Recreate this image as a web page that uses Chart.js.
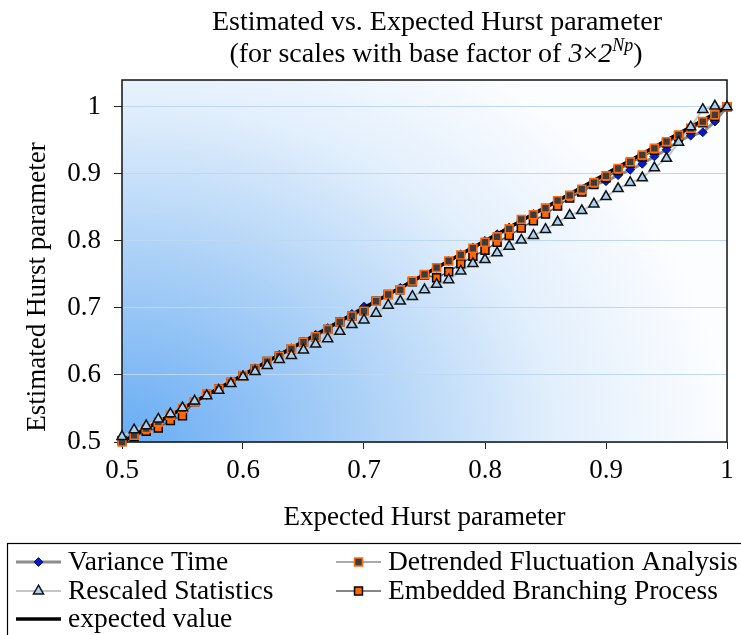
<!DOCTYPE html>
<html>
<head>
<meta charset="utf-8">
<style>
  html, body { margin: 0; padding: 0; background: #fff; }
  canvas { display: block; }
</style>
<script src="https://cdn.jsdelivr.net/npm/chart.js@4.4.1/dist/chart.umd.min.js"></script>
</head>
<body>
<canvas id="hurst" width="741" height="635"></canvas>
<script>
// Expected Hurst parameter (x) and the estimate of each method (y)
const expectedH = [
  0.50, 0.51, 0.52, 0.53, 0.54, 0.55, 0.56, 0.57, 0.58, 0.59,
  0.60, 0.61, 0.62, 0.63, 0.64, 0.65, 0.66, 0.67, 0.68, 0.69,
  0.70, 0.71, 0.72, 0.73, 0.74, 0.75, 0.76, 0.77, 0.78, 0.79,
  0.80, 0.81, 0.82, 0.83, 0.84, 0.85, 0.86, 0.87, 0.88, 0.89,
  0.90, 0.91, 0.92, 0.93, 0.94, 0.95, 0.96, 0.97, 0.98, 0.99,
  1.00
];
const varianceTime = [
  0.500, 0.510, 0.520, 0.530, 0.540, 0.550, 0.560, 0.570, 0.580, 0.590,
  0.600, 0.610, 0.620, 0.630, 0.640, 0.650, 0.660, 0.670, 0.680, 0.691,
  0.702, 0.710, 0.720, 0.730, 0.740, 0.750, 0.760, 0.770, 0.780, 0.790,
  0.800, 0.810, 0.820, 0.831, 0.840, 0.849, 0.859, 0.867, 0.875, 0.884,
  0.889, 0.898, 0.906, 0.915, 0.926, 0.936, 0.949, 0.957, 0.962, 0.978,
  1.000
];
const rescaledStats = [
  0.508, 0.518, 0.524, 0.534, 0.542, 0.551, 0.561, 0.569, 0.577, 0.587,
  0.597, 0.605, 0.614, 0.623, 0.629, 0.637, 0.646, 0.654, 0.665, 0.675,
  0.682, 0.692, 0.704, 0.710, 0.717, 0.727, 0.735, 0.742, 0.755, 0.766,
  0.772, 0.782, 0.792, 0.801, 0.808, 0.817, 0.828, 0.838, 0.845, 0.855,
  0.866, 0.878, 0.887, 0.894, 0.909, 0.923, 0.947, 0.970, 0.996, 1.001,
  1.000
];
const detrendedFA = [
  0.500, 0.510, 0.520, 0.530, 0.540, 0.550, 0.560, 0.571, 0.579, 0.589,
  0.599, 0.609, 0.620, 0.628, 0.639, 0.649, 0.657, 0.668, 0.679, 0.688,
  0.695, 0.710, 0.720, 0.727, 0.740, 0.750, 0.760, 0.770, 0.779, 0.789,
  0.798, 0.806, 0.818, 0.832, 0.839, 0.849, 0.860, 0.868, 0.877, 0.887,
  0.897, 0.908, 0.918, 0.928, 0.938, 0.948, 0.958, 0.968, 0.978, 0.988,
  1.000
];
const embeddedBP = [
  0.502, 0.508, 0.516, 0.521, 0.532, 0.539, 0.560, 0.571, 0.579, 0.589,
  0.599, 0.609, 0.620, 0.628, 0.639, 0.649, 0.657, 0.668, 0.679, 0.688,
  0.696, 0.710, 0.720, 0.727, 0.739, 0.749, 0.745, 0.754, 0.766, 0.777,
  0.786, 0.798, 0.808, 0.819, 0.830, 0.840, 0.852, 0.864, 0.873, 0.884,
  0.894, 0.905, 0.916, 0.925, 0.935, 0.946, 0.956, 0.966, 0.976, 0.986,
  1.000
];
const xTickValues = [0.5, 0.6, 0.7, 0.8, 0.9, 1];
const yTickValues = [0.5, 0.6, 0.7, 0.8, 0.9, 1];

const SERIF = '"Liberation Serif", "Times New Roman", serif';
const pts = ys => expectedH.map((x, i) => ({ x: x, y: ys[i] }));

// Marker styles shared by the plot and the legend
const styleRS  = { pointStyle: 'triangle', radius: 5.8, fill: '#a9cff1', stroke: '#111111', bw: 1.5 };
const styleDFA = { pointStyle: 'rect',     radius: 5.6, fill: '#3c3c3c', stroke: '#ff6a10', bw: 1.6 };
const styleEBP = { pointStyle: 'rect',     radius: 5.6, fill: '#ff6600', stroke: '#000000', bw: 1.5 };
const styleVT  = { pointStyle: 'rectRot',  radius: 4.4, fill: '#0b18c8', stroke: '#00106e', bw: 1 };

function markers(label, ys, s, order) {
  return {
    label: label, data: pts(ys), showLine: false, order: order, clip: false,
    pointStyle: s.pointStyle, pointRadius: s.radius, pointHoverRadius: s.radius,
    pointBackgroundColor: s.fill, pointBorderColor: s.stroke, pointBorderWidth: s.bw
  };
}
function line(label, ys, color, width, order) {
  return {
    label: label, data: pts(ys), order: order, clip: false,
    borderColor: color, borderWidth: width, pointRadius: 0, tension: 0, fill: false
  };
}

const lineRS  = line('Rescaled Statistics', rescaledStats, '#c4c4c4', 2, 5);
const lineDFA = line('Detrended Fluctuation Analysis', detrendedFA, '#8e8e8e', 1.5, 6);
const lineEBP = line('Embedded Branching Process', embeddedBP, '#5c5c5c', 1.5, 7);
const lineExp = line('expected value', expectedH, '#000000', 3.5, 4);
const dsVT = Object.assign(line('Variance Time', varianceTime, '#8c8c8c', 3, 8), {
  pointStyle: styleVT.pointStyle, pointRadius: styleVT.radius, pointHoverRadius: styleVT.radius,
  pointBackgroundColor: styleVT.fill, pointBorderColor: styleVT.stroke, pointBorderWidth: styleVT.bw
});

const datasets = [
  markers('Rescaled Statistics', rescaledStats, styleRS, 1),
  markers('Detrended Fluctuation Analysis', detrendedFA, styleDFA, 2),
  markers('Embedded Branching Process', embeddedBP, styleEBP, 3),
  lineExp, lineRS, lineDFA, lineEBP, dsVT
];

function drawMarker(ctx, s, x, y) {
  ctx.save();
  ctx.fillStyle = s.fill;
  ctx.strokeStyle = s.stroke;
  ctx.lineWidth = s.bw;
  Chart.helpers.drawPoint(ctx, { pointStyle: s.pointStyle, radius: s.radius, rotation: 0, borderWidth: s.bw }, x, y);
  ctx.restore();
}

// Background gradient, plot frame, titles and the boxed legend
const decor = {
  id: 'decor',
  beforeDraw(chart) {
    const { ctx, chartArea: a } = chart;
    ctx.save();
    ctx.fillStyle = '#ffffff';
    ctx.fillRect(0, 0, chart.width, chart.height);
    const w = a.right - a.left;
    const h = a.bottom - a.top;
    // elliptical glow from the lower-left corner
    const sy = (h * 1.3) / w;
    ctx.beginPath();
    ctx.rect(a.left, a.top, w, h);
    ctx.clip();
    ctx.translate(a.left, a.bottom);
    ctx.scale(1, sy);
    const g = ctx.createRadialGradient(0, 0, 0, 0, 0, w);
    g.addColorStop(0, '#68acf4');
    g.addColorStop(0.4, '#acd1f7');
    g.addColorStop(0.72, '#e2effc');
    g.addColorStop(1, '#fcfdff');
    ctx.fillStyle = g;
    ctx.fillRect(0, -w * 2, w * 2, w * 2);
    ctx.restore();
  },
  beforeDatasetsDraw(chart) {
    const { ctx, chartArea: a } = chart;
    ctx.save();
    ctx.strokeStyle = '#111111';
    ctx.lineWidth = 1.5;
    ctx.strokeRect(a.left, a.top, a.right - a.left, a.bottom - a.top);
    ctx.restore();
  },
  afterDraw(chart) {
    const { ctx } = chart;
    ctx.save();
    ctx.fillStyle = '#000';
    ctx.textBaseline = 'alphabetic';

    // Title, first line
    ctx.font = '28px ' + SERIF;
    ctx.textAlign = 'center';
    ctx.fillText('Estimated vs. Expected Hurst parameter', 437, 30);

    // Title, second line with italic factor and superscript exponent
    const parts = [
      { t: '(for scales with base factor of ', f: '28px ' + SERIF, dy: 0 },
      { t: '3', f: 'italic 28px ' + SERIF, dy: 0 },
      { t: '\u00d7', f: '28px ' + SERIF, dy: 0 },
      { t: '2', f: 'italic 28px ' + SERIF, dy: 0 },
      { t: 'Np', f: 'italic 18px ' + SERIF, dy: -11 },
      { t: ')', f: '28px ' + SERIF, dy: 0 }
    ];
    let total = 0;
    parts.forEach(p => { ctx.font = p.f; p.w = ctx.measureText(p.t).width; total += p.w; });
    let x = 436 - total / 2;
    ctx.textAlign = 'left';
    parts.forEach(p => { ctx.font = p.f; ctx.fillText(p.t, x, 62 + p.dy); x += p.w; });

    // Vertical axis title
    ctx.save();
    ctx.translate(38, 287);
    ctx.rotate(-Math.PI / 2);
    ctx.font = '27px ' + SERIF;
    ctx.textAlign = 'center';
    ctx.textBaseline = 'middle';
    ctx.fillText('Estimated Hurst parameter', 0, 0);
    ctx.restore();

    // Legend box
    ctx.strokeStyle = '#000';
    ctx.lineWidth = 1.2;
    ctx.strokeRect(7.5, 543.5, 745, 100);

    const items = [
      { ds: dsVT,    s: styleVT,  col: 0, row: 0 },
      { ds: lineDFA, s: styleDFA, col: 1, row: 0 },
      { ds: lineRS,  s: styleRS,  col: 0, row: 1 },
      { ds: lineEBP, s: styleEBP, col: 1, row: 1 },
      { ds: lineExp, s: null,     col: 0, row: 2 }
    ];
    const colX = [16, 336];
    const rowY = [562, 591, 619];
    ctx.font = '27.5px ' + SERIF;
    ctx.textAlign = 'left';
    ctx.textBaseline = 'middle';
    items.forEach(it => {
      const x0 = colX[it.col], y0 = rowY[it.row];
      ctx.strokeStyle = it.ds.borderColor;
      ctx.lineWidth = it.ds.borderWidth;
      ctx.beginPath();
      ctx.moveTo(x0, y0);
      ctx.lineTo(x0 + 45, y0);
      ctx.stroke();
      if (it.s) drawMarker(ctx, it.s, x0 + 22.5, y0);
      ctx.fillStyle = '#000';
      ctx.fillText(it.ds.label, x0 + 52, y0 + 1);
    });
    ctx.restore();
  }
};

new Chart(document.getElementById('hurst'), {
  type: 'line',
  data: { datasets: datasets },
  options: {
    responsive: false,
    animation: false,
    events: [],
    layout: { padding: { top: 80, right: 14, bottom: 93, left: 0 } },
    plugins: { legend: { display: false }, tooltip: { enabled: false }, title: { display: false } },
    scales: {
      x: {
        type: 'linear', min: 0.5, max: 1.0,
        afterBuildTicks: s => { s.ticks = xTickValues.map(v => ({ value: v })); },
        afterFit: s => { s.height = 100; },
        border: { display: false },
        grid: { drawOnChartArea: false, drawTicks: true, tickLength: 7, tickColor: '#222', tickWidth: 1 },
        ticks: {
          font: { family: SERIF, size: 27 }, color: '#000', padding: 6,
          maxRotation: 0, autoSkip: false, callback: v => String(v)
        },
        title: {
          display: true, text: 'Expected Hurst parameter', color: '#000',
          font: { family: SERIF, size: 27 }, padding: { top: 0, bottom: 8 }
        }
      },
      y: {
        type: 'linear', min: 0.5, max: 1.04,
        afterBuildTicks: s => { s.ticks = yTickValues.map(v => ({ value: v })); },
        afterFit: s => { s.width = 122; },
        border: { display: false },
        grid: { color: '#bcd8f2', lineWidth: 1, drawTicks: true, tickLength: 8, tickColor: '#222', tickWidth: 1 },
        ticks: {
          font: { family: SERIF, size: 27 }, color: '#000', padding: 13,
          autoSkip: false, callback: v => String(v)
        }
      }
    }
  },
  plugins: [decor]
});
</script>
</body>
</html>
